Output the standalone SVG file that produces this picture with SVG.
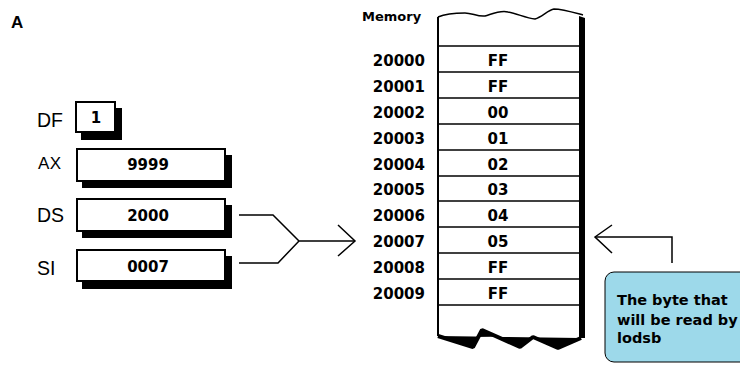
<svg xmlns="http://www.w3.org/2000/svg" width="740" height="365" viewBox="0 0 740 365">
<style>
.lbl{font-family:"Liberation Sans",Arial,sans-serif;font-size:19.5px;fill:#000}
.val{font-family:"DejaVu Sans","Liberation Sans",Arial,sans-serif;font-size:15px;font-weight:bold;fill:#000;text-anchor:middle}
.addr{font-family:"DejaVu Sans","Liberation Sans",Arial,sans-serif;font-size:15px;font-weight:bold;fill:#000;text-anchor:end}
.box{fill:#fff;stroke:#000;stroke-width:2}
.shadow{fill:#000}
.row{stroke:#000;stroke-width:1.5}
.conn{fill:none;stroke:#000;stroke-width:1.5}
.note{font-family:"DejaVu Sans","Liberation Sans",Arial,sans-serif;font-size:14.5px;font-weight:bold;fill:#000}
</style>
<text x="11" y="28" class="lbl" style="font-weight:bold;font-size:17px">A</text>

<g id="DF">
<text x="37" y="127" class="lbl">DF</text>
<rect x="81" y="108" width="41" height="32" class="shadow"/>
<rect x="76" y="102" width="39" height="30" class="box"/>
<text x="96" y="123" class="val">1</text>
</g>
<g id="AX">
<text x="38" y="169" class="lbl" style="font-size:17px;letter-spacing:0.5px">AX</text>
<rect x="82" y="155" width="150" height="33" class="shadow"/>
<rect x="77" y="149" width="148" height="32" class="box"/>
<text x="148" y="170" class="val">9999</text>
</g>
<g id="DS">
<text x="37" y="222" class="lbl">DS</text>
<rect x="82" y="205" width="150" height="33" class="shadow"/>
<rect x="77" y="199" width="148" height="32" class="box"/>
<text x="148" y="221" class="val">2000</text>
</g>
<g id="SI">
<text x="37" y="275" class="lbl">SI</text>
<rect x="82" y="256" width="150" height="33" class="shadow"/>
<rect x="77" y="250" width="148" height="31" class="box"/>
<text x="148" y="272" class="val">0007</text>
</g>

<g id="memory">
<text x="362" y="21" class="note" style="font-size:13px">Memory</text>
<path d="M438,336 L473,347 L482,330 L520,347 L533,337 L558,348 L580,338 L585,338 L585,18 L579,16 L579,338 Z" fill="#000"/>
<path d="M438,336 L438,17" stroke="#000" stroke-width="2" fill="none"/>
<path d="M438,17 C445,14 455,13 465,13 C472,13 478,17 485,16 C492,14 500,10 508,12 C518,14 526,18 535,19 C542,17 548,10 554,9 C562,9 572,12 583,15" stroke="#000" stroke-width="1.5" fill="none"/>
<g class="row">
<line x1="438" y1="46" x2="579" y2="46"/>
<line x1="438" y1="72" x2="579" y2="72"/>
<line x1="438" y1="98" x2="579" y2="98"/>
<line x1="438" y1="124" x2="579" y2="124"/>
<line x1="438" y1="150" x2="579" y2="150"/>
<line x1="438" y1="176" x2="579" y2="176"/>
<line x1="438" y1="201" x2="579" y2="201"/>
<line x1="438" y1="227" x2="579" y2="227"/>
<line x1="438" y1="253" x2="579" y2="253"/>
<line x1="438" y1="279" x2="579" y2="279"/>
<line x1="438" y1="305" x2="579" y2="305"/>
</g>
<path d="M438,336 L473,347 L482,330 L520,347 L533,337 L558,348 L581,338" stroke="#000" stroke-width="4" fill="none" stroke-linejoin="bevel"/>
</g>

<g id="cells">
<text x="425" y="66" class="addr">20000</text><text x="498" y="66" class="val">FF</text>
<text x="425" y="92" class="addr">20001</text><text x="498" y="92" class="val">FF</text>
<text x="425" y="118" class="addr">20002</text><text x="498" y="118" class="val">00</text>
<text x="425" y="144" class="addr">20003</text><text x="498" y="144" class="val">01</text>
<text x="425" y="170" class="addr">20004</text><text x="498" y="170" class="val">02</text>
<text x="425" y="195" class="addr">20005</text><text x="498" y="195" class="val">03</text>
<text x="425" y="221" class="addr">20006</text><text x="498" y="221" class="val">04</text>
<text x="425" y="247" class="addr">20007</text><text x="498" y="247" class="val">05</text>
<text x="425" y="273" class="addr">20008</text><text x="498" y="273" class="val">FF</text>
<text x="425" y="299" class="addr">20009</text><text x="498" y="299" class="val">FF</text>
</g>

<g id="connectors">
<polyline class="conn" points="239,215 273,215 299,241 355,241"/>
<polyline class="conn" points="239,263 278,263 299,241"/>
<polyline class="conn" points="338,225 355,241 338,256"/>
<polyline class="conn" points="672,263 672,237 595,237"/>
<polyline class="conn" points="612,225 595,237 612,253"/>
</g>

<g id="callout">
<rect x="605" y="272" width="150" height="90" rx="9" fill="#9dd9ea" stroke="#000" stroke-width="1"/>
<text x="617" y="305" class="note">The byte that</text>
<text x="617" y="325" class="note">will be read by</text>
<text x="617" y="343" class="note">lodsb</text>
</g>
</svg>
